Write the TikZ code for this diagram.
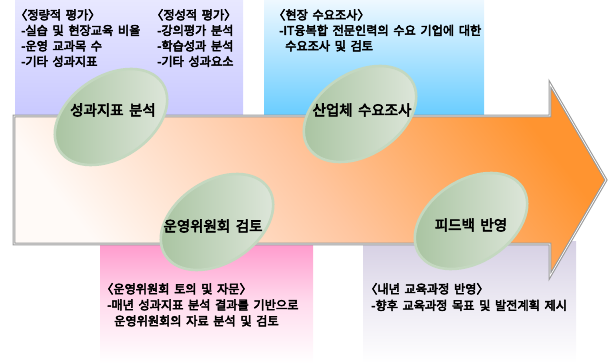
\documentclass[tikz,border=0pt]{standalone}
\usepackage{fontspec}
\setmainfont{Noto Sans CJK KR}[BoldFont={Noto Sans CJK KR}, BoldFeatures={FakeBold=4}, WordSpace=1.7]
\usetikzlibrary{shapes.geometric}
\definecolor{lavtop}{HTML}{E8E8FF}
\definecolor{lavbot}{HTML}{C8C8FF}
\definecolor{bluetop}{HTML}{EEF8FF}
\definecolor{bluebot}{HTML}{66CCFF}
\definecolor{pinktop}{HTML}{FF99CC}
\definecolor{greytop}{HTML}{D6D0E4}
\definecolor{arrlight}{HTML}{FFFAF7}
\definecolor{arrmid}{HTML}{FFC6A0}
\definecolor{arrorange}{HTML}{FF9430}
\definecolor{arrborder}{HTML}{9A9A9A}
\definecolor{elldark}{HTML}{A6C29E}
\definecolor{elllight}{HTML}{E0E8DD}
\definecolor{ellborder}{HTML}{C4D8C0}
\tikzset{
  txt/.style={anchor=base west, inner sep=0pt, font=\bfseries\fontsize{12.2pt}{14pt}\selectfont},
  lbl/.style={anchor=center, inner sep=0pt, font=\bfseries\fontsize{14.5pt}{16pt}\selectfont},
  oval/.style={ellipse, draw=ellborder, line width=2.6pt, minimum width=123pt, minimum height=82pt,
    inner sep=0pt, left color=elldark, right color=elllight, rotate=33},
}
\begin{document}
\begin{tikzpicture}[x=1pt,y=-1pt]
\useasboundingbox (0,0) rectangle (608,363);
% background boxes
\shade[top color=lavtop, bottom color=lavbot] (15,0) rectangle (243,118);
\shade[top color=bluetop, bottom color=bluebot] (264,0) rectangle (484,118);
\shade[top color=pinktop, bottom color=white, middle color=pinktop!35] (100,242) rectangle (313,363);
\shade[top color=greytop, bottom color=white, middle color=greytop!45] (363,242) rectangle (576,363);
% big arrow
\path[top color=arrorange, bottom color=arrlight, middle color=arrmid, shading angle=-52]
  (14,116) -- (550,116) -- (550,84) -- (606,180) -- (550,276) -- (550,244) -- (14,244) -- cycle;
\draw[draw=arrborder, line width=1.1pt, double=white, double distance=0.7pt, line join=miter]
  (14,116) -- (550,116) -- (550,84) -- (606,180) -- (550,276) -- (550,244) -- (14,244) -- cycle;
% ovals
\node[oval] (e1) at (111,117) {};
\node[oval] (e2) at (360,114) {};
\node[oval] (e3) at (217,222) {};
\node[oval] (e4) at (471,221) {};
\node[lbl] (l1) at (113,110) {성과지표 분석};
\node[lbl] (l2) at (362,110) {산업체 수요조사};
\node[lbl] (l3) at (213,226) {운영위원회 검토};
\node[lbl] (l4) at (471,225) {피드백 반영};
% box texts
\node[txt] (a1) at (21,19.5) {\hspace*{-6pt}〈정량적 평가〉};
\node[txt] (a2) at (21,35) {-실습 및 현장교육 비율};
\node[txt] (a3) at (21,50.5) {-운영 교과목 수};
\node[txt] (a4) at (21,66) {-기타 성과지표};
\node[txt] (b1) at (157,19.5) {\hspace*{-6pt}〈정성적 평가〉};
\node[txt] (b2) at (157,35) {-강의평가 분석};
\node[txt] (b3) at (157,50.5) {-학습성과 분석};
\node[txt] (b4) at (157,66) {-기타 성과요소};
\node[txt] (c1) at (279,19.5) {\hspace*{-6pt}〈현장 수요조사〉};
\node[txt] (c2) at (279,35) {-IT융복합 전문인력의 수요 기업에 대한};
\node[txt] (c3) at (285,50.5) {수요조사 및 검토};
\node[txt] (d1) at (107,293.5) {\hspace*{-6pt}〈운영위원회 토의 및 자문〉};
\node[txt] (d2) at (107,309.5) {-매년 성과지표 분석 결과를 기반으로};
\node[txt] (d3) at (114,325.5) {운영위원회의 자료 분석 및 검토};
\node[txt] (f1) at (371,293.5) {\hspace*{-6pt}〈내년 교육과정 반영〉};
\node[txt] (f2) at (371,310) {-향후 교육과정 목표 및 발전계획 제시};
\end{tikzpicture}
\end{document}
